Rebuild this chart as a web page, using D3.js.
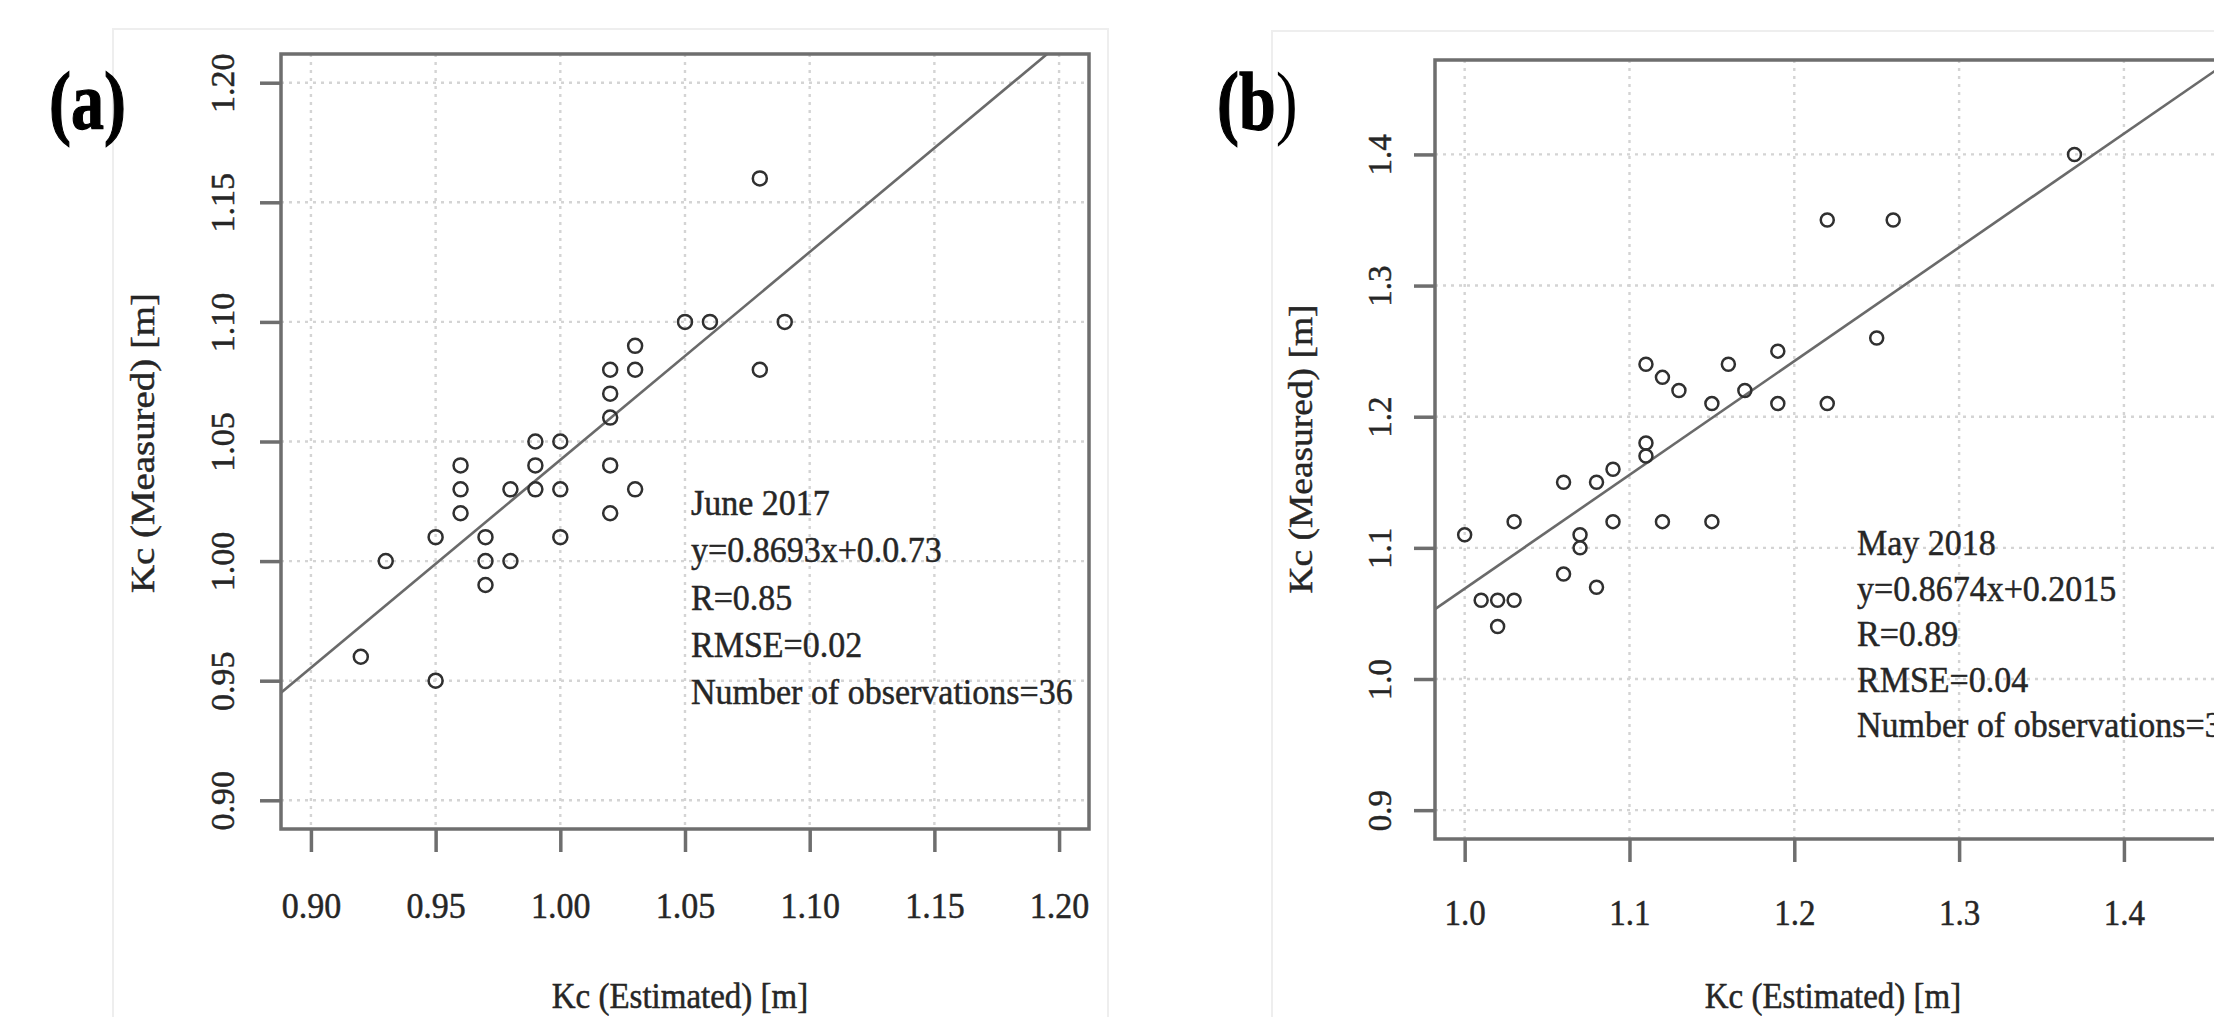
<!DOCTYPE html>
<html>
<head>
<meta charset="utf-8">
<script src="https://cdn.jsdelivr.net/npm/d3@7"></script>
<style>
  html, body { margin: 0; padding: 0; background: #ffffff; }
  svg { display: block; }
</style>
</head>
<body>
<svg id="chart" width="2214" height="1017"></svg>
<script>
// ---------------- DATA ----------------
// Panel (a): June 2017
const ticksA = [0.90, 0.95, 1.00, 1.05, 1.10, 1.15, 1.20];
const tickLabelsA = ["0.90", "0.95", "1.00", "1.05", "1.10", "1.15", "1.20"];
const estimatedA = [0.92, 0.93, 0.95, 0.95, 0.96, 0.96, 0.96, 0.97, 0.97, 0.97, 0.98, 0.98,
                    0.99, 0.99, 0.99, 1.00, 1.00, 1.00, 1.02, 1.02, 1.02, 1.02, 1.02, 1.03,
                    1.03, 1.03, 1.05, 1.06, 1.08, 1.08, 1.09];
const measuredA  = [0.96, 1.00, 0.95, 1.01, 1.02, 1.03, 1.04, 0.99, 1.00, 1.01, 1.00, 1.03,
                    1.03, 1.04, 1.05, 1.01, 1.03, 1.05, 1.02, 1.04, 1.06, 1.07, 1.08, 1.03,
                    1.08, 1.09, 1.10, 1.10, 1.08, 1.16, 1.10];
const slopeA = 0.8693, interceptA = 0.173;
const annotationA = ["June 2017", "y=0.8693x+0.0.73", "R=0.85", "RMSE=0.02", "Number of observations=36"];

// Panel (b): May 2018
const xTicksB = [1.0, 1.1, 1.2, 1.3, 1.4];
const xTickLabelsB = ["1.0", "1.1", "1.2", "1.3", "1.4"];
const yTicksB = [0.9, 1.0, 1.1, 1.2, 1.3, 1.4];
const yTickLabelsB = ["0.9", "1.0", "1.1", "1.2", "1.3", "1.4"];
const estimatedB = [1.00, 1.01, 1.02, 1.03, 1.02, 1.03, 1.06, 1.06, 1.07, 1.07, 1.08, 1.08,
                    1.09, 1.09, 1.11, 1.11, 1.12, 1.15, 1.11, 1.12, 1.13, 1.15, 1.16, 1.17,
                    1.19, 1.19, 1.22, 1.22, 1.26, 1.25, 1.37];
const measuredB  = [1.11, 1.06, 1.06, 1.06, 1.04, 1.12, 1.15, 1.08, 1.11, 1.10, 1.15, 1.07,
                    1.16, 1.12, 1.18, 1.17, 1.12, 1.12, 1.24, 1.23, 1.22, 1.21, 1.24, 1.22,
                    1.21, 1.25, 1.21, 1.35, 1.35, 1.26, 1.40];
const slopeB = 0.8674, interceptB = 0.2015;
const annotationB = ["May 2018", "y=0.8674x+0.2015", "R=0.89", "RMSE=0.04", "Number of observations=36"];

const xTitle = "Kc (Estimated) [m]";
const yTitle = "Kc (Measured) [m]";

// ---------------- DRAWING ----------------
const svg = d3.select("#chart");
const FONT = "'Liberation Serif', 'Times New Roman', Times, serif";
const TEXT = "#262626";
const BOX = "#6e6e6e";
const VSTRETCH = 1.08;

function styleText(sel, size) {
  return sel.attr("font-family", FONT).attr("font-size", size)
    .attr("fill", TEXT).attr("stroke", TEXT).attr("stroke-width", 0.45);
}

function drawPanel(c) {
  const g = svg.append("g");

  // faint card outline behind the figure
  g.append("rect")
    .attr("x", c.card[0]).attr("y", c.card[1])
    .attr("width", c.card[2]).attr("height", 1200)
    .attr("fill", "#ffffff").attr("stroke", "#eeeeee").attr("stroke-width", 2);

  const x = d3.scaleLinear().domain(c.xDomain).range([c.left, c.right]);
  const y = d3.scaleLinear().domain(c.yDomain).range([c.bottom, c.top]);

  const clipId = "clip-" + c.id;
  g.append("clipPath").attr("id", clipId)
    .append("rect")
    .attr("x", c.left).attr("y", c.top)
    .attr("width", c.right - c.left).attr("height", c.bottom - c.top);

  const plot = g.append("g").attr("clip-path", `url(#${clipId})`);

  // dotted grid
  plot.selectAll(".vgrid").data(c.xTicks).join("line")
    .attr("x1", d => x(d)).attr("x2", d => x(d))
    .attr("y1", c.top).attr("y2", c.bottom)
    .attr("stroke", "#d4d4d4").attr("stroke-width", 2.4)
    .attr("stroke-dasharray", "3 5");
  plot.selectAll(".hgrid").data(c.yTicks).join("line")
    .attr("x1", c.left).attr("x2", c.right)
    .attr("y1", d => y(d)).attr("y2", d => y(d))
    .attr("stroke", "#d4d4d4").attr("stroke-width", 2.4)
    .attr("stroke-dasharray", "3 5");

  // regression line
  const xs = c.xDomain;
  plot.append("line")
    .attr("x1", x(xs[0])).attr("y1", y(c.slope * xs[0] + c.intercept))
    .attr("x2", x(xs[1])).attr("y2", y(c.slope * xs[1] + c.intercept))
    .attr("stroke", "#6a6a6a").attr("stroke-width", 2.6);

  // points
  plot.selectAll(".pt").data(c.est.map((e, i) => [e, c.meas[i]])).join("circle")
    .attr("cx", d => x(d[0])).attr("cy", d => y(d[1]))
    .attr("r", c.r)
    .attr("fill", "none").attr("stroke", "#303030").attr("stroke-width", 2.5);

  // box
  g.append("rect")
    .attr("x", c.left).attr("y", c.top)
    .attr("width", c.right - c.left).attr("height", c.bottom - c.top)
    .attr("fill", "none").attr("stroke", BOX).attr("stroke-width", 3.5);

  // x axis
  const xAxis = g.append("g")
    .attr("transform", `translate(0,${c.bottom})`)
    .call(d3.axisBottom(x).tickValues(c.xTicks)
      .tickFormat((d, i) => c.xLabels[i]).tickSize(23));
  xAxis.select(".domain").remove();
  xAxis.selectAll(".tick line").attr("stroke", BOX).attr("stroke-width", 3.5);
  styleText(xAxis.selectAll(".tick text"), c.tickFont)
    .attr("y", 0).attr("dy", 0)
    .attr("transform", `translate(0,${c.xLabelBaseline}) scale(1,${VSTRETCH})`);

  // y axis
  const yAxis = g.append("g")
    .attr("transform", `translate(${c.left},0)`)
    .call(d3.axisLeft(y).tickValues(c.yTicks)
      .tickFormat((d, i) => c.yLabels[i]).tickSize(21));
  yAxis.select(".domain").remove();
  yAxis.selectAll(".tick line").attr("stroke", BOX).attr("stroke-width", 3.5);
  styleText(yAxis.selectAll(".tick text"), c.tickFont)
    .attr("x", 0).attr("dy", "0.35em")
    .attr("text-anchor", "middle")
    .attr("transform", `translate(${c.yLabelOffset},0) rotate(-90)`);

  // axis titles
  styleText(g.append("text"), 33)
    .attr("transform", `translate(${c.xTitlePos[0]},${c.xTitlePos[1]}) scale(1,${VSTRETCH})`)
    .attr("text-anchor", "middle")
    .text(xTitle);
  styleText(g.append("text"), 34)
    .attr("transform", `translate(${c.yTitlePos[0]},${c.yTitlePos[1]}) rotate(-90)`)
    .attr("text-anchor", "middle").attr("dy", "0.35em")
    .attr("textLength", c.yTitleLen).attr("lengthAdjust", "spacingAndGlyphs")
    .text(yTitle);

  // annotation block
  const ann = g.append("g");
  c.annotation.forEach((t, i) => {
    styleText(ann.append("text"), 34)
      .attr("transform", `translate(${c.annPos[0]},${c.annPos[1] + i * c.annStep}) scale(1,${VSTRETCH})`)
      .text(t);
  });

  // panel letter
  const lab = g.append("text")
    .attr("transform", `translate(${c.letterPos[0]},${c.letterPos[1]}) scale(1,1.25)`)
    .attr("font-family", FONT).attr("font-size", 66).attr("font-weight", "bold")
    .attr("fill", "#000000").attr("stroke", "#000000").attr("stroke-width", 1);
  lab.append("tspan").text("(" + c.letter);
  lab.append("tspan").attr("font-weight", c.closeBold ? "bold" : "normal")
    .attr("stroke-width", c.closeBold ? 1 : 0).text(")");
}

drawPanel({
  id: "a", letter: "a", closeBold: true,
  card: [113, 29, 995],
  xDomain: [0.888, 1.212], yDomain: [0.888, 1.212],
  left: 281, right: 1089, top: 54, bottom: 829,
  xTicks: ticksA, yTicks: ticksA, xLabels: tickLabelsA, yLabels: tickLabelsA,
  est: estimatedA, meas: measuredA, slope: slopeA, intercept: interceptA,
  r: 7, tickFont: 34, xLabelBaseline: 89, yLabelOffset: -59,
  xTitlePos: [680, 1008], yTitlePos: [142, 443], yTitleLen: 300,
  annotation: annotationA, annPos: [691, 515], annStep: 47.3,
  letterPos: [49, 129]
});

drawPanel({
  id: "b", letter: "b", closeBold: false,
  card: [1272, 31, 1000],
  xDomain: [0.982, 1.468], yDomain: [0.878, 1.472],
  left: 1435, right: 2236, top: 60, bottom: 839,
  xTicks: xTicksB, yTicks: yTicksB, xLabels: xTickLabelsB, yLabels: yTickLabelsB,
  est: estimatedB, meas: measuredB, slope: slopeB, intercept: interceptB,
  r: 6.5, tickFont: 33, xLabelBaseline: 86, yLabelOffset: -56,
  xTitlePos: [1833, 1008], yTitlePos: [1300, 449], yTitleLen: 289,
  annotation: annotationB, annPos: [1857, 555], annStep: 45.5,
  letterPos: [1217, 129]
});
</script>
</body>
</html>
